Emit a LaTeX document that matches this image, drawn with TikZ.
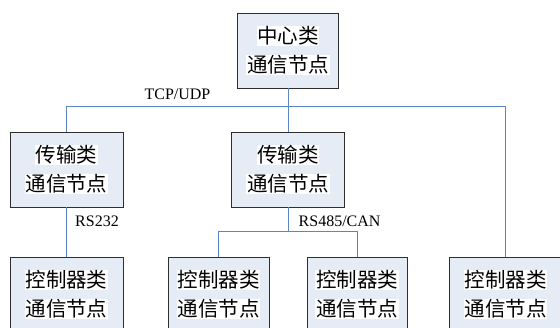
\documentclass[tikz,border=0pt]{standalone}
\usepackage{fontspec}
\setmainfont{Liberation Serif}
\newfontfamily\cjk{Noto Sans CJK SC}
\definecolor{boxfill}{HTML}{E6ECF6}
\definecolor{boxline}{HTML}{2E2E2E}
\definecolor{connline}{HTML}{5A86C5}
\newcommand{\hl}[1]{{\setlength{\fboxsep}{0.6pt}\colorbox{white}{#1}}}
\tikzset{
  nodebox/.style={draw=boxline, line width=0.9pt, fill=boxfill, minimum height=75pt,
    inner sep=0pt, align=center, font=\cjk\fontsize{20.5}{29}\selectfont},
  wide/.style={minimum width=113pt},
  narrow/.style={minimum width=101pt},
  conn/.style={draw=connline, line width=1pt},
  lbl/.style={font=\fontsize{16}{18}\selectfont, inner sep=0pt}
}
\begin{document}
\begin{tikzpicture}[x=1pt,y=-1pt]
\useasboundingbox (0,0) rectangle (560,328);
\clip (0,0) rectangle (560,328);
% nodes
\node[nodebox, narrow] (center) at (288,50.5) {\hl{中心类}\\\hl{通信节点}};
\node[nodebox, wide] (t1) at (66.5,169.5) {\hl{传输类}\\\hl{通信节点}};
\node[nodebox, wide] (t2) at (288,169.5) {\hl{传输类}\\\hl{通信节点}};
\node[nodebox, wide] (c1) at (66.5,294.5) {\hl{控制器类}\\\hl{通信节点}};
\node[nodebox, narrow] (c2) at (218.5,294.5) {\hl{控制器类}\\\hl{通信节点}};
\node[nodebox, narrow, minimum width=100pt] (c3) at (357,294.5) {\hl{控制器类}\\\hl{通信节点}};
\node[nodebox, wide] (c4) at (505.5,294.5) {\hl{控制器类}\\\hl{通信节点}};
% bus coordinates
\coordinate (bus1) at (0,107);
\coordinate (bus2) at (0,232);
% connectors
\draw[conn] (center.south) -- (t2.north);
\draw[conn] (t1.north) -- (t1.north |- bus1) -- (c4.north |- bus1) -- (c4.north);
\draw[conn] (t1.south) -- (c1.north);
\draw[conn] (t2.south) -- (t2.south |- bus2);
\draw[conn] (c2.north) -- (c2.north |- bus2) -- (c3.north |- bus2) -- (c3.north);
% labels
\node[lbl] (tcp) at (177.5,94) {TCP/UDP};
\node[lbl, anchor=west] (rs232) at (75,221) {RS232};
\node[lbl, anchor=west] (rs485) at (298.5,221) {RS485/CAN};
\end{tikzpicture}
\end{document}
